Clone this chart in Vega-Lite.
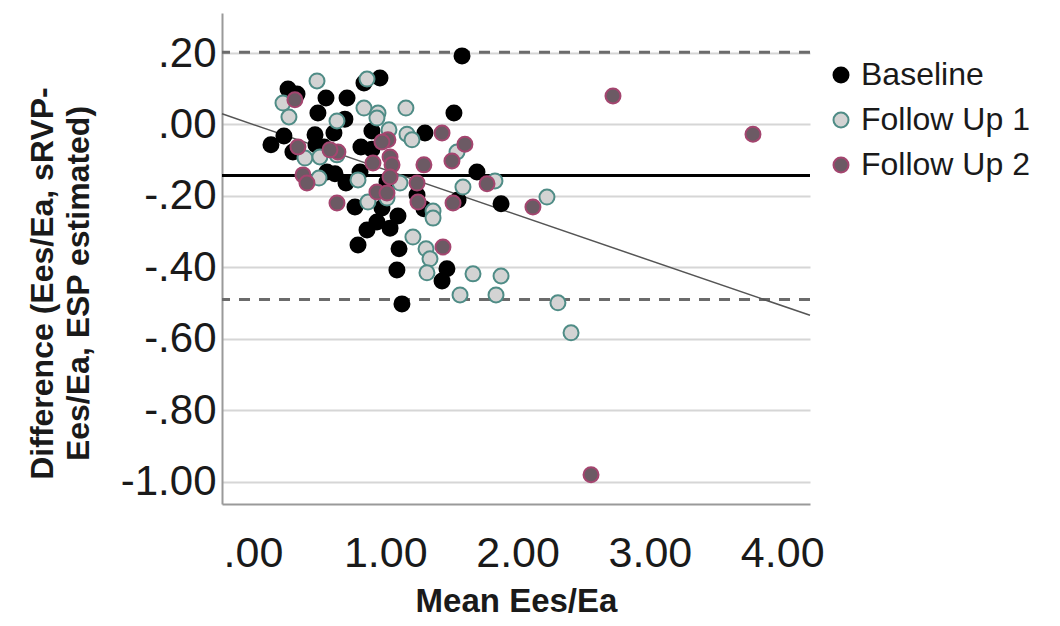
{
  "$schema": "https://vega.github.io/schema/vega-lite/v6.json",
  "autosize": {"type": "none"},
  "padding": {"left": 222, "top": 13, "right": 250, "bottom": 122},
  "width": 588,
  "height": 491,
  "background": "white",
  "config": {
    "font": "Liberation Sans",
    "view": {"stroke": null}
  },
  "datasets": {
    "points": [
      {"mean": 1.580, "diff": 0.192, "group": "Baseline"},
      {"mean": 0.960, "diff": 0.130, "group": "Baseline"},
      {"mean": 0.839, "diff": 0.116, "group": "Baseline"},
      {"mean": 0.265, "diff": 0.099, "group": "Baseline"},
      {"mean": 0.333, "diff": 0.085, "group": "Baseline"},
      {"mean": 0.552, "diff": 0.074, "group": "Baseline"},
      {"mean": 0.711, "diff": 0.074, "group": "Baseline"},
      {"mean": 0.491, "diff": 0.032, "group": "Baseline"},
      {"mean": 0.695, "diff": 0.015, "group": "Baseline"},
      {"mean": 1.519, "diff": 0.032, "group": "Baseline"},
      {"mean": 0.234, "diff": -0.032, "group": "Baseline"},
      {"mean": 0.136, "diff": -0.057, "group": "Baseline"},
      {"mean": 0.469, "diff": -0.029, "group": "Baseline"},
      {"mean": 0.612, "diff": -0.024, "group": "Baseline"},
      {"mean": 0.899, "diff": -0.018, "group": "Baseline"},
      {"mean": 1.300, "diff": -0.024, "group": "Baseline"},
      {"mean": 0.302, "diff": -0.077, "group": "Baseline"},
      {"mean": 0.476, "diff": -0.057, "group": "Baseline"},
      {"mean": 0.537, "diff": -0.063, "group": "Baseline"},
      {"mean": 0.816, "diff": -0.063, "group": "Baseline"},
      {"mean": 0.899, "diff": -0.069, "group": "Baseline"},
      {"mean": 1.693, "diff": -0.133, "group": "Baseline"},
      {"mean": 0.559, "diff": -0.133, "group": "Baseline"},
      {"mean": 0.620, "diff": -0.138, "group": "Baseline"},
      {"mean": 0.703, "diff": -0.164, "group": "Baseline"},
      {"mean": 0.809, "diff": -0.133, "group": "Baseline"},
      {"mean": 1.013, "diff": -0.161, "group": "Baseline"},
      {"mean": 0.771, "diff": -0.231, "group": "Baseline"},
      {"mean": 0.975, "diff": -0.234, "group": "Baseline"},
      {"mean": 1.096, "diff": -0.256, "group": "Baseline"},
      {"mean": 0.937, "diff": -0.273, "group": "Baseline"},
      {"mean": 0.862, "diff": -0.295, "group": "Baseline"},
      {"mean": 1.036, "diff": -0.290, "group": "Baseline"},
      {"mean": 0.794, "diff": -0.337, "group": "Baseline"},
      {"mean": 1.104, "diff": -0.348, "group": "Baseline"},
      {"mean": 1.088, "diff": -0.407, "group": "Baseline"},
      {"mean": 1.466, "diff": -0.404, "group": "Baseline"},
      {"mean": 1.429, "diff": -0.438, "group": "Baseline"},
      {"mean": 1.126, "diff": -0.502, "group": "Baseline"},
      {"mean": 1.875, "diff": -0.222, "group": "Baseline"},
      {"mean": 1.550, "diff": -0.211, "group": "Baseline"},
      {"mean": 1.240, "diff": -0.197, "group": "Baseline"},
      {"mean": 1.292, "diff": -0.236, "group": "Baseline"},
      {"mean": 0.484, "diff": 0.122, "group": "Follow Up 1"},
      {"mean": 0.862, "diff": 0.127, "group": "Follow Up 1"},
      {"mean": 0.227, "diff": 0.060, "group": "Follow Up 1"},
      {"mean": 0.272, "diff": 0.021, "group": "Follow Up 1"},
      {"mean": 0.635, "diff": 0.010, "group": "Follow Up 1"},
      {"mean": 0.839, "diff": 0.046, "group": "Follow Up 1"},
      {"mean": 0.945, "diff": 0.032, "group": "Follow Up 1"},
      {"mean": 0.937, "diff": 0.018, "group": "Follow Up 1"},
      {"mean": 1.156, "diff": 0.046, "group": "Follow Up 1"},
      {"mean": 1.028, "diff": -0.015, "group": "Follow Up 1"},
      {"mean": 1.164, "diff": -0.027, "group": "Follow Up 1"},
      {"mean": 1.202, "diff": -0.043, "group": "Follow Up 1"},
      {"mean": 0.393, "diff": -0.094, "group": "Follow Up 1"},
      {"mean": 0.506, "diff": -0.091, "group": "Follow Up 1"},
      {"mean": 0.635, "diff": -0.085, "group": "Follow Up 1"},
      {"mean": 0.499, "diff": -0.150, "group": "Follow Up 1"},
      {"mean": 0.794, "diff": -0.155, "group": "Follow Up 1"},
      {"mean": 1.111, "diff": -0.164, "group": "Follow Up 1"},
      {"mean": 0.869, "diff": -0.217, "group": "Follow Up 1"},
      {"mean": 1.013, "diff": -0.206, "group": "Follow Up 1"},
      {"mean": 1.542, "diff": -0.077, "group": "Follow Up 1"},
      {"mean": 1.587, "diff": -0.175, "group": "Follow Up 1"},
      {"mean": 1.829, "diff": -0.158, "group": "Follow Up 1"},
      {"mean": 2.222, "diff": -0.203, "group": "Follow Up 1"},
      {"mean": 1.209, "diff": -0.315, "group": "Follow Up 1"},
      {"mean": 1.308, "diff": -0.348, "group": "Follow Up 1"},
      {"mean": 1.338, "diff": -0.376, "group": "Follow Up 1"},
      {"mean": 1.361, "diff": -0.242, "group": "Follow Up 1"},
      {"mean": 1.361, "diff": -0.262, "group": "Follow Up 1"},
      {"mean": 1.315, "diff": -0.415, "group": "Follow Up 1"},
      {"mean": 1.663, "diff": -0.418, "group": "Follow Up 1"},
      {"mean": 1.875, "diff": -0.424, "group": "Follow Up 1"},
      {"mean": 1.565, "diff": -0.477, "group": "Follow Up 1"},
      {"mean": 1.837, "diff": -0.477, "group": "Follow Up 1"},
      {"mean": 2.305, "diff": -0.499, "group": "Follow Up 1"},
      {"mean": 2.404, "diff": -0.583, "group": "Follow Up 1"},
      {"mean": 0.317, "diff": 0.069, "group": "Follow Up 2"},
      {"mean": 2.721, "diff": 0.080, "group": "Follow Up 2"},
      {"mean": 1.429, "diff": -0.024, "group": "Follow Up 2"},
      {"mean": 1.602, "diff": -0.055, "group": "Follow Up 2"},
      {"mean": 1.504, "diff": -0.102, "group": "Follow Up 2"},
      {"mean": 1.292, "diff": -0.113, "group": "Follow Up 2"},
      {"mean": 1.020, "diff": -0.043, "group": "Follow Up 2"},
      {"mean": 0.975, "diff": -0.049, "group": "Follow Up 2"},
      {"mean": 1.036, "diff": -0.091, "group": "Follow Up 2"},
      {"mean": 1.051, "diff": -0.113, "group": "Follow Up 2"},
      {"mean": 0.907, "diff": -0.108, "group": "Follow Up 2"},
      {"mean": 0.340, "diff": -0.063, "group": "Follow Up 2"},
      {"mean": 0.642, "diff": -0.077, "group": "Follow Up 2"},
      {"mean": 0.582, "diff": -0.071, "group": "Follow Up 2"},
      {"mean": 0.378, "diff": -0.141, "group": "Follow Up 2"},
      {"mean": 0.408, "diff": -0.164, "group": "Follow Up 2"},
      {"mean": 0.635, "diff": -0.220, "group": "Follow Up 2"},
      {"mean": 0.937, "diff": -0.189, "group": "Follow Up 2"},
      {"mean": 1.013, "diff": -0.192, "group": "Follow Up 2"},
      {"mean": 1.240, "diff": -0.164, "group": "Follow Up 2"},
      {"mean": 1.247, "diff": -0.217, "group": "Follow Up 2"},
      {"mean": 1.512, "diff": -0.220, "group": "Follow Up 2"},
      {"mean": 1.769, "diff": -0.166, "group": "Follow Up 2"},
      {"mean": 2.116, "diff": -0.231, "group": "Follow Up 2"},
      {"mean": 1.436, "diff": -0.343, "group": "Follow Up 2"},
      {"mean": 3.779, "diff": -0.027, "group": "Follow Up 2"},
      {"mean": 2.555, "diff": -0.980, "group": "Follow Up 2"},
      {"mean": 1.036, "diff": -0.147, "group": "Follow Up 2"}
    ],
    "limits": [
      {"value": 0.202, "kind": "upper"},
      {"value": -0.490, "kind": "lower"}
    ],
    "meanline": [
      {"value": -0.143}
    ],
    "fit": [
      {"mean": -0.234, "diff": 0.030},
      {"mean": 4.21, "diff": -0.534}
    ]
  },
  "layer": [
    {
      "data": {"name": "limits"},
      "mark": {"type": "rule", "stroke": "#6b6b6b", "strokeWidth": 3, "strokeDash": [11, 9]},
      "encoding": {
        "y": {"field": "value", "type": "quantitative", "scale": {"domain": [-1.062, 0.312], "nice": false, "zero": false}}
      }
    },
    {
      "data": {"name": "meanline"},
      "mark": {"type": "rule", "stroke": "#000000", "strokeWidth": 3},
      "encoding": {
        "y": {"field": "value", "type": "quantitative"}
      }
    },
    {
      "data": {"name": "fit"},
      "mark": {"type": "line", "stroke": "#555555", "strokeWidth": 1.5},
      "encoding": {
        "x": {"field": "mean", "type": "quantitative", "scale": {"domain": [-0.234, 4.21], "nice": false, "zero": false}},
        "y": {"field": "diff", "type": "quantitative"}
      }
    },
    {
      "data": {"name": "points"},
      "mark": {"type": "point", "shape": "circle", "filled": true, "size": 225, "strokeWidth": 2, "opacity": 1},
      "encoding": {
        "x": {
          "field": "mean", "type": "quantitative",
          "scale": {"domain": [-0.234, 4.21], "nice": false, "zero": false},
          "axis": {
            "title": "Mean Ees/Ea",
            "values": [0, 1, 2, 3, 4],
            "labelExpr": "replace(format(datum.value, '.2f'), '0.00', '.00')",
            "labelFontSize": 43,
            "labelColor": "#1a1a1a",
            "labelPadding": 28,
            "ticks": false,
            "grid": false,
            "domainColor": "#9a9a9a",
            "domainWidth": 2,
            "titleFontSize": 33,
            "titleFontWeight": "bold",
            "titleColor": "#1a1a1a",
            "titlePadding": 10,
            "labelFlush": false
          }
        },
        "y": {
          "field": "diff", "type": "quantitative",
          "scale": {"domain": [-1.062, 0.312], "nice": false, "zero": false},
          "axis": {
            "title": ["Difference (Ees/Ea, sRVP-", "Ees/Ea, ESP estimated)"],
            "values": [-1, -0.8, -0.6, -0.4, -0.2, 0, 0.2],
            "labelExpr": "(datum.value < 0 ? '-' : '') + replace(format(abs(datum.value), '.2f'), '0.', '.')",
            "labelFontSize": 42,
            "labelColor": "#1a1a1a",
            "labelPadding": 6,
            "ticks": false,
            "grid": true,
            "gridColor": "#d6d6d6",
            "gridWidth": 2,
            "domainColor": "#9a9a9a",
            "domainWidth": 2,
            "titleFontSize": 32,
            "titleFontWeight": "bold",
            "titleColor": "#1a1a1a",
            "titleLineHeight": 36,
            "titleAngle": -90,
            "titleAlign": "center",
            "titleBaseline": "middle",
            "titleX": -180,
            "titleY": 270,
            "labelFlush": false
          }
        },
        "fill": {
          "field": "group", "type": "nominal",
          "scale": {"domain": ["Baseline", "Follow Up 1", "Follow Up 2"], "range": ["#000000", "#d3d3d3", "#6c5a64"]},
          "legend": {
            "title": null,
            "orient": "none",
            "legendX": 603,
            "legendY": 46,
            "labelFontSize": 32,
            "labelLimit": 400,
            "labelColor": "#1a1a1a",
            "symbolSize": 225,
            "symbolStrokeWidth": 2,
            "symbolType": "circle",
            "rowPadding": 13,
            "labelOffset": 4
          }
        },
        "stroke": {
          "field": "group", "type": "nominal",
          "scale": {"domain": ["Baseline", "Follow Up 1", "Follow Up 2"], "range": ["#000000", "#4f8c86", "#a4456f"]}
        }
      }
    }
  ]
}
